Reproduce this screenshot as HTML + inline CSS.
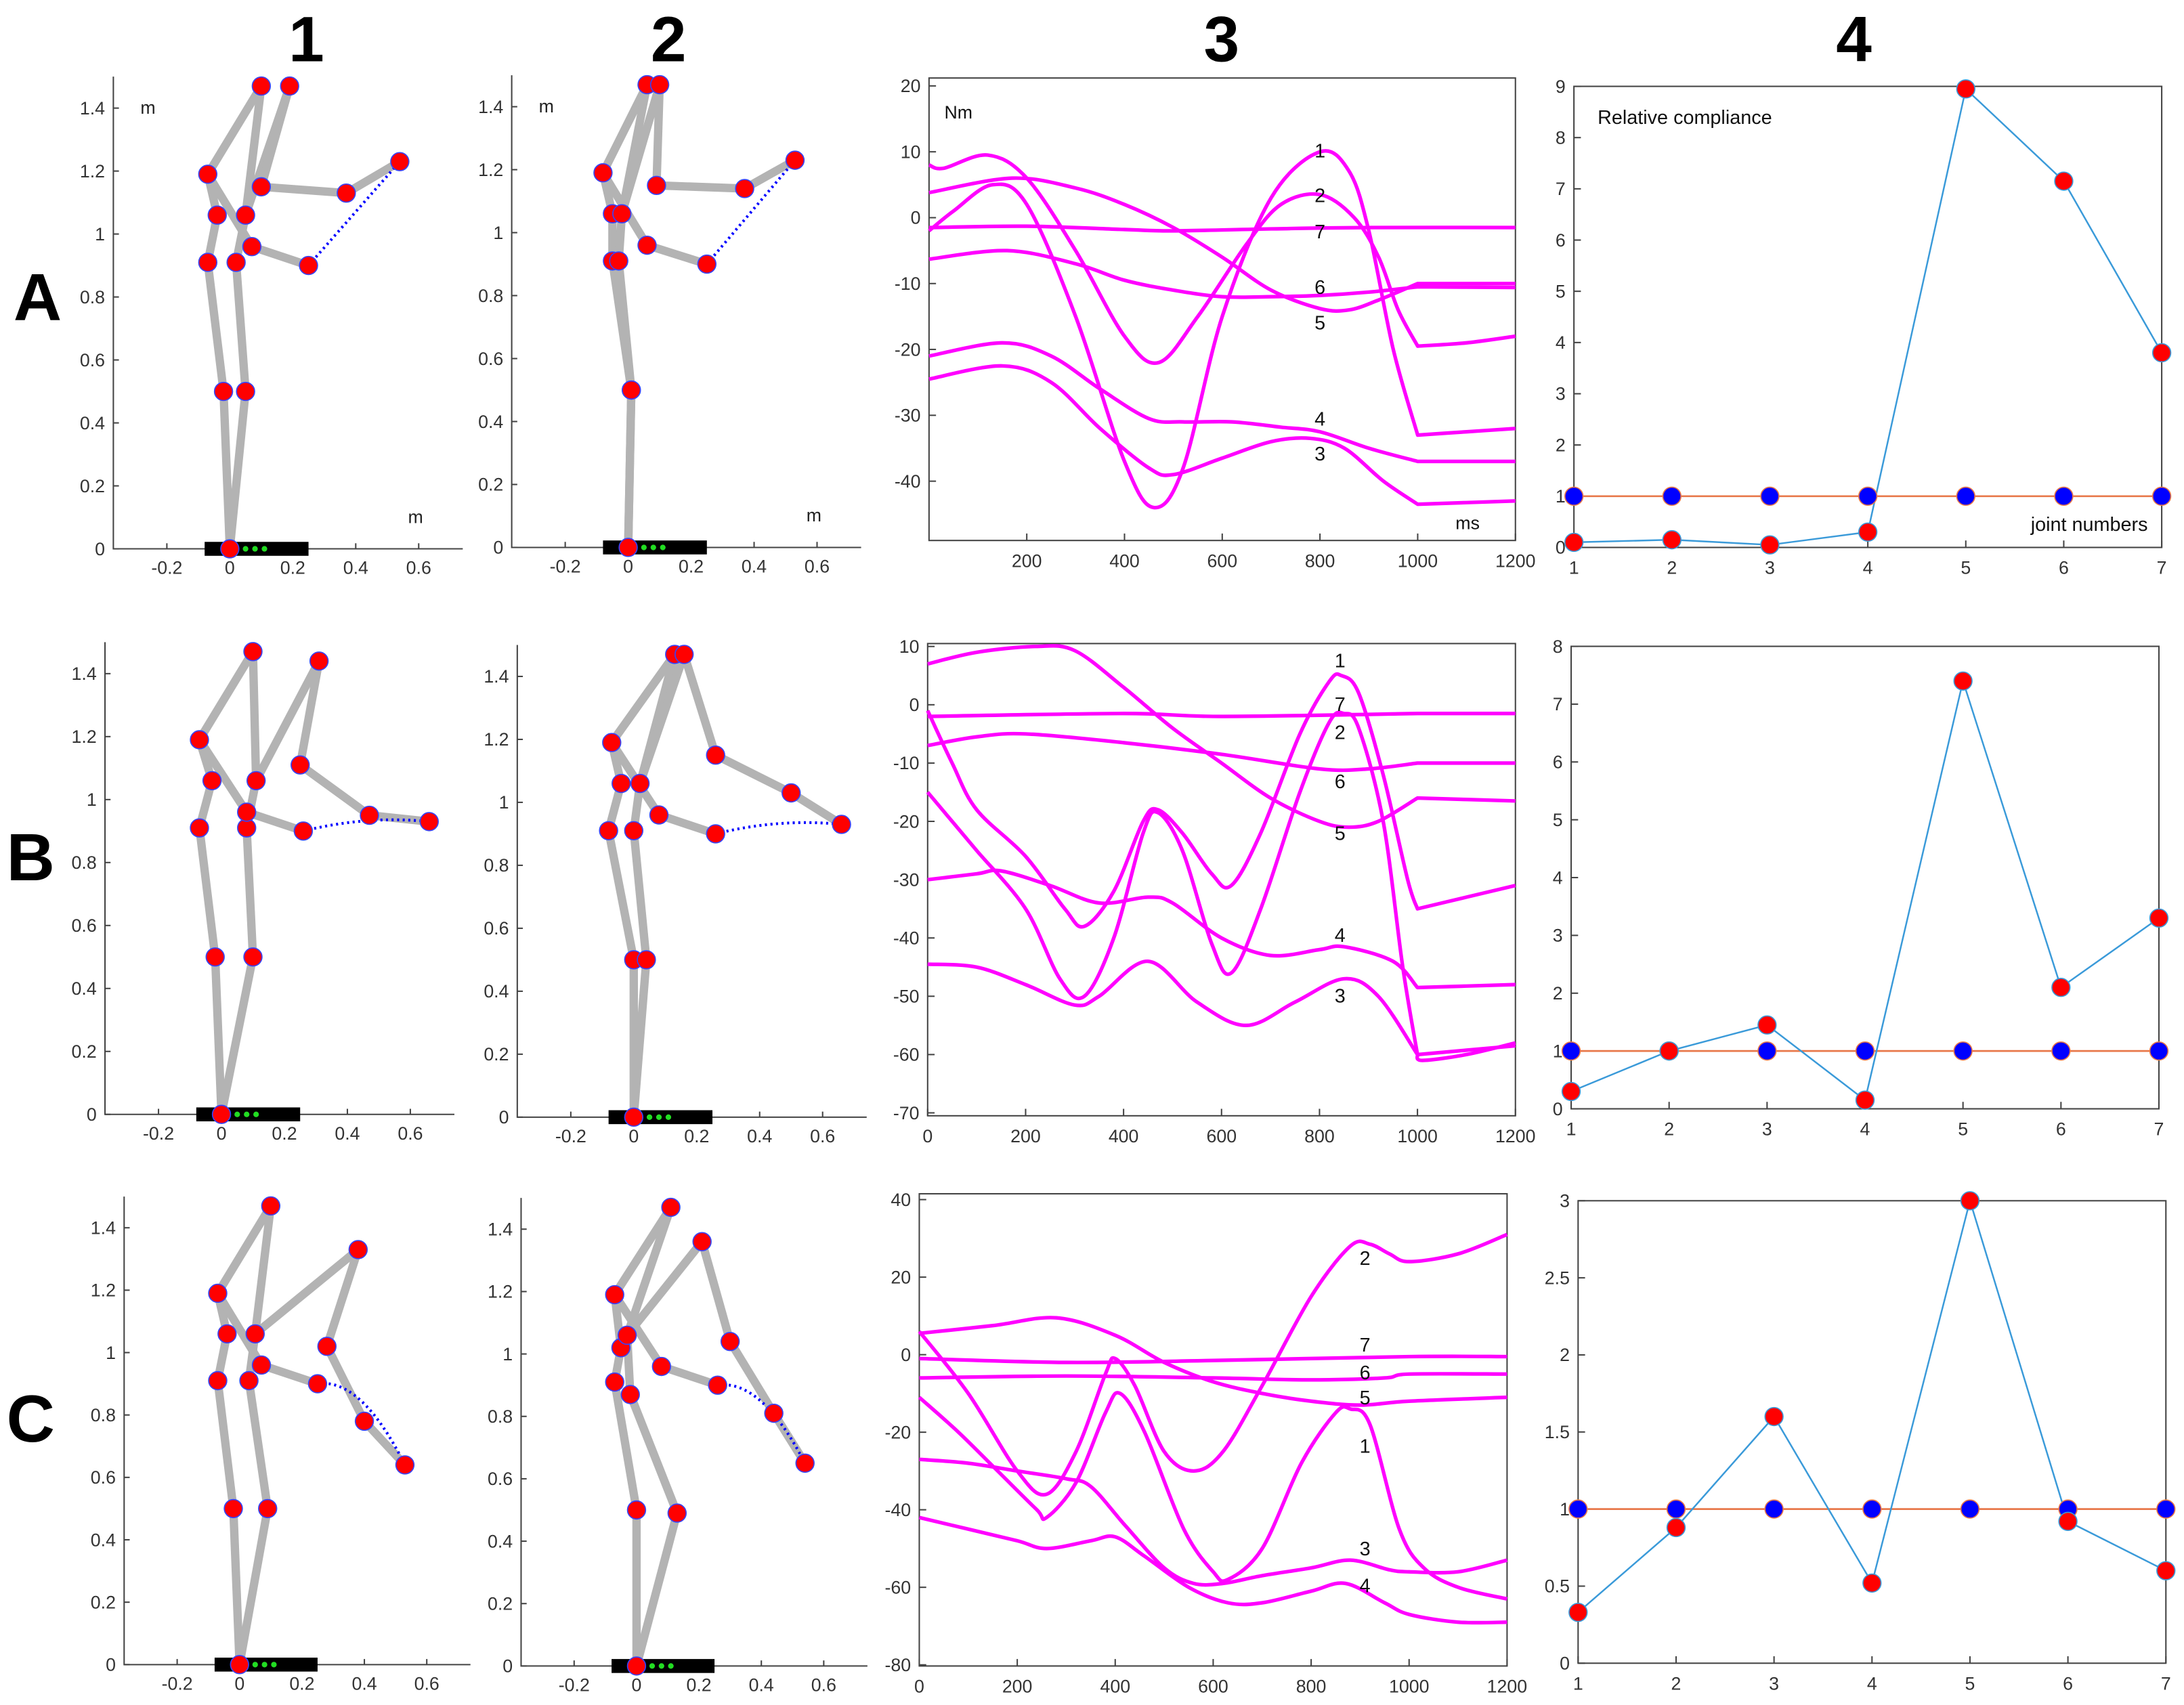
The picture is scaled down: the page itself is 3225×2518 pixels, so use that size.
<!DOCTYPE html>
<html><head><meta charset="utf-8">
<style>
html,body{margin:0;padding:0;background:#fff;}
svg{display:block;font-family:"Liberation Sans",Arial,sans-serif;}
</style></head>
<body>
<svg id="fig" width="3225" height="2518" viewBox="0 0 1568 1224" preserveAspectRatio="none" xmlns="http://www.w3.org/2000/svg">
<rect x="0" y="0" width="1568" height="1224" fill="#fff"/>
<text x="220" y="44" font-size="46" font-weight="bold" text-anchor="middle">1</text>
<text x="480" y="44" font-size="46" font-weight="bold" text-anchor="middle">2</text>
<text x="877" y="44" font-size="46" font-weight="bold" text-anchor="middle">3</text>
<text x="1331" y="44" font-size="46" font-weight="bold" text-anchor="middle">4</text>
<text x="27" y="230" font-size="48" font-weight="bold" text-anchor="middle">A</text>
<text x="22" y="632" font-size="48" font-weight="bold" text-anchor="middle">B</text>
<text x="22" y="1035" font-size="48" font-weight="bold" text-anchor="middle">C</text>
</svg>
<script>
// ---------- stick figure data (meters) order: F,K1,K2,H1,H2,W1,W2,S1,E1,E2,P1,P2,P3,Q1,Q2
const jointsA1=[[0,0],[-0.02,0.50],[0.05,0.50],[-0.07,0.91],[0.02,0.91],[-0.04,1.06],[0.05,1.06],[-0.07,1.19],[0.10,1.47],[0.19,1.47],[0.10,1.15],[0.37,1.13],[0.54,1.23],[0.07,0.96],[0.25,0.90]];
const jointsA2=[[0,0],[0.01,0.50],[0.01,0.50],[-0.05,0.91],[-0.03,0.91],[-0.05,1.06],[-0.02,1.06],[-0.08,1.19],[0.06,1.47],[0.10,1.47],[0.09,1.15],[0.37,1.14],[0.53,1.23],[0.06,0.96],[0.25,0.90]];
const jointsB1=[[0,0],[-0.02,0.50],[0.10,0.50],[-0.07,0.91],[0.08,0.91],[-0.03,1.06],[0.11,1.06],[-0.07,1.19],[0.10,1.47],[0.31,1.44],[0.25,1.11],[0.47,0.95],[0.66,0.93],[0.08,0.96],[0.26,0.90]];
const jointsB2=[[0,0],[0.00,0.50],[0.04,0.50],[-0.08,0.91],[0.00,0.91],[-0.04,1.06],[0.02,1.06],[-0.07,1.19],[0.13,1.47],[0.16,1.47],[0.26,1.15],[0.50,1.03],[0.66,0.93],[0.08,0.96],[0.26,0.90]];
const jointsC1=[[0,0],[-0.02,0.50],[0.09,0.50],[-0.07,0.91],[0.03,0.91],[-0.04,1.06],[0.05,1.06],[-0.07,1.19],[0.10,1.47],[0.38,1.33],[0.28,1.02],[0.40,0.78],[0.53,0.64],[0.07,0.96],[0.25,0.90]];
const jointsC2=[[0,0],[0.00,0.50],[0.13,0.49],[-0.07,0.91],[-0.02,0.87],[-0.05,1.02],[-0.03,1.06],[-0.07,1.19],[0.11,1.47],[0.21,1.36],[0.30,1.04],[0.44,0.81],[0.54,0.65],[0.08,0.96],[0.26,0.90]];
const stickXTicks=[-0.2,0,0.2,0.4,0.6];
const stickYTicks=[0,0.2,0.4,0.6,0.8,1,1.2,1.4];

// ---------- torque curves (ms, Nm)
const tqA1=[[0,-2],[50,1],[130,5],[200,2],[300,-15],[400,-37],[460,-44],[520,-38],[600,-15],[700,3],[800,10],[860,7],[900,-2],[950,-20],[1000,-33],[1100,-32.5],[1200,-32]];
const tqA2=[[0,8],[30,7.5],[120,9.5],[200,6],[300,-5],[400,-18],[470,-22],[550,-15],[650,-4],[720,2],[800,3.5],[870,0],[920,-6],[960,-14],[1000,-19.5],[1100,-19],[1200,-18]];
const tqA3=[[0,-24.5],[150,-22.5],[250,-25],[350,-32],[450,-38],[500,-39],[600,-36.5],[700,-34],[780,-33.5],[850,-35],[930,-40],[1000,-43.5],[1200,-43]];
const tqA4=[[0,-21],[150,-19],[250,-21],[350,-26],[450,-30.5],[520,-31],[620,-31],[720,-31.8],[800,-32.5],[900,-35],[1000,-37],[1200,-37]];
const tqA5=[[0,3.8],[170,6],[300,4.5],[400,2],[500,-1.5],[600,-6],[700,-11],[800,-13.8],[860,-14],[920,-12.5],[1000,-10],[1200,-10]];
const tqA6=[[0,-6.3],[160,-5],[300,-7],[400,-9.5],[500,-11],[600,-12],[700,-12],[800,-11.8],[900,-11.3],[1000,-10.5],[1200,-10.6]];
const tqA7=[[0,-1.5],[200,-1.3],[400,-1.8],[500,-2],[700,-1.7],[900,-1.5],[1200,-1.5]];
const tqB1=[[0,-1],[50,-10],[100,-18],[200,-26],[280,-35],[320,-38],[380,-32],[440,-20],[470,-18],[520,-22],[580,-29],[620,-31],[680,-22],[760,-5],[820,4],[845,5],[880,2],[930,-12],[980,-30],[1000,-35],[1100,-33],[1200,-31]];
const tqB2=[[0,-15],[50,-20],[100,-25],[200,-35],[270,-47],[320,-50],[380,-40],[440,-22],[470,-18.5],[520,-25],[580,-41],[620,-46],[680,-35],[760,-15],[820,-3],[850,-1.5],[880,-4],[930,-20],[970,-45],[1000,-60],[1010,-61],[1100,-60],[1200,-58]];
const tqB3=[[0,-44.5],[100,-45],[200,-48],[300,-51.5],[350,-50],[450,-44],[550,-51],[650,-55],[750,-51],[850,-47],[920,-50],[1000,-60],[1200,-58.5]];
const tqB4=[[0,-30],[100,-29],[150,-28.5],[250,-31],[350,-34],[450,-33],[500,-34],[600,-40],[700,-43],[800,-42],[850,-41.5],[950,-44],[1000,-48.5],[1200,-48]];
const tqB5=[[0,7],[100,9],[220,10],[300,9.3],[400,3],[500,-4],[600,-10],[700,-16],[800,-20],[860,-21],[920,-20],[1000,-16],[1200,-16.5]];
const tqB6=[[0,-7],[100,-5.5],[200,-5],[400,-6.5],[600,-8.5],[800,-11],[900,-11],[1000,-10],[1200,-10]];
const tqB7=[[0,-2],[400,-1.5],[600,-2],[1000,-1.5],[1200,-1.5]];
const tqC1=[[0,-11],[80,-20],[160,-30],[240,-40],[260,-42],[320,-33],[380,-15],[410,-10],[460,-20],[540,-45],[600,-56],[630,-58],[700,-50],[780,-28],[850,-15],[880,-14],[920,-18],[980,-45],[1030,-55],[1100,-60],[1200,-63]];
const tqC2=[[0,6],[100,-10],[200,-30],[260,-36],[320,-25],[380,-5],[400,-1],[440,-8],[500,-25],[560,-30],[620,-25],[700,-8],[800,15],[880,28],[920,28.5],[960,26],[1000,24],[1100,26],[1200,31]];
const tqC3=[[0,-27],[100,-28],[200,-30],[300,-32],[350,-34],[420,-44],[500,-55],[560,-59],[620,-59],[700,-57],[800,-55],[880,-53],[960,-55.5],[1000,-56],[1100,-56],[1200,-53]];
const tqC4=[[0,-42],[100,-45],[200,-48],[260,-50],[350,-48],[400,-47],[460,-52],[550,-60],[630,-64],[700,-64],[800,-61],[870,-59],[950,-64],[1000,-67],[1100,-69],[1200,-69]];
const tqC5=[[0,5.5],[150,7.5],[280,9.5],[400,5],[500,-2],[600,-7],[700,-10],[800,-12],[900,-13],[1000,-12],[1200,-11]];
const tqC6=[[0,-6],[300,-5.5],[600,-6],[800,-6.5],[950,-6],[1000,-5],[1200,-5]];
const tqC7=[[0,-1],[300,-2],[600,-1.5],[1000,-0.5],[1200,-0.5]];
const curveLabelsA=[['1',800,10.2],['2',800,3.4],['7',800,-2.1],['6',800,-10.5],['5',800,-15.9],['4',800,-30.5],['3',800,-35.8]];
const curveLabelsB=[['1',842,7.6],['7',842,0.1],['2',842,-4.7],['6',842,-13.1],['5',842,-22],['4',842,-39.5],['3',842,-49.9]];
const curveLabelsC=[['2',910,25],['7',910,2.6],['6',910,-4.6],['5',910,-11],['1',910,-23.5],['3',910,-50],['4',910,-59.5]];
const msTicks=[200,400,600,800,1000,1200];
const nmTicksA=[20,10,0,-10,-20,-30,-40];
const nmTicksB=[10,0,-10,-20,-30,-40,-50,-60,-70];
const nmTicksC=[40,20,0,-20,-40,-60,-80];

// ---------- compliance data
const joints=[1,2,3,4,5,6,7];
const complianceA=[0.1,0.15,0.05,0.3,8.95,7.15,3.8];
const complianceB=[0.3,1.0,1.45,0.15,7.4,2.1,3.3];
const complianceC=[0.33,0.88,1.6,0.52,3.0,0.92,0.6];
const referenceLevel=[1,1,1,1,1,1,1];
const compTicksA=[0,1,2,3,4,5,6,7,8,9];
const compTicksB=[0,1,2,3,4,5,6,7,8];
const compTicksC=[0,0.5,1,1.5,2,2.5,3];

const NS='http://www.w3.org/2000/svg';
const svg=document.getElementById('fig');
function mk(tag,attrs,parent){const e=document.createElementNS(NS,tag);for(const k in attrs)e.setAttribute(k,attrs[k]);(parent||svg).appendChild(e);return e;}
function lin(d0,d1,r0,r1){return v=>r0+(v-d0)/(d1-d0)*(r1-r0);}
function fmt(v){return (Math.round(v*10)/10).toString();}
function smooth(pts,move){
  let d=(move?'M':'L')+pts[0][0].toFixed(2)+','+pts[0][1].toFixed(2);
  for(let i=0;i<pts.length-1;i++){
    const p0=pts[Math.max(0,i-1)],p1=pts[i],p2=pts[i+1],p3=pts[Math.min(pts.length-1,i+2)];
    const c1x=p1[0]+(p2[0]-p0[0])/6,c1y=p1[1]+(p2[1]-p0[1])/6;
    const c2x=p2[0]-(p3[0]-p1[0])/6,c2y=p2[1]-(p3[1]-p1[1])/6;
    d+=' C'+c1x.toFixed(2)+','+c1y.toFixed(2)+' '+c2x.toFixed(2)+','+c2y.toFixed(2)+' '+p2[0].toFixed(2)+','+p2[1].toFixed(2);
  }
  return d;
}

// ---------- stick panels
const segs=[[0,1],[1,3],[3,5],[5,7],[7,8],[7,13],[13,14],[0,2],[2,4],[4,6],[6,8],[6,9],[9,10],[10,11],[11,12]];
function stickPanel(name,joints,ox,oy,s,units,curved){
  const g=mk('g',{});
  
  
  const X=lin(0,1,ox,ox+s),Y=lin(0,1,oy,oy-s);
  const xmin=-0.37,xmax=0.74,ytop=1.5;
  const ax=mk('path',{d:'M'+X(xmin)+','+Y(ytop)+' L'+X(xmin)+','+Y(0)+' L'+X(xmax)+','+Y(0),fill:'none',stroke:'#444','stroke-width':1},g);
  
  
  stickYTicks.forEach(v=>{
    const t=mk('line',{x1:X(xmin),x2:X(xmin)+4,y1:Y(v),y2:Y(v),stroke:'#444','stroke-width':1},g);
    
    
    const l=mk('text',{x:X(xmin)-6,y:Y(v)+4.5,'font-size':13,'text-anchor':'end',fill:'#333'},g);
    
    
    l.textContent=fmt(v);
  });
  stickXTicks.forEach(v=>{
    const t=mk('line',{x1:X(v),x2:X(v),y1:Y(0),y2:Y(0)-4,stroke:'#444','stroke-width':1},g);
    
    
    const l=mk('text',{x:X(v),y:Y(0)+18,'font-size':13,'text-anchor':'middle',fill:'#333'},g);
    
    
    l.textContent=fmt(v);
  });
  segs.forEach(p=>{
    const a=joints[p[0]],b=joints[p[1]];
    const ln=mk('line',{x1:X(a[0]),y1:Y(a[1]),x2:X(b[0]),y2:Y(b[1]),stroke:'#b3b3b3','stroke-width':6,'stroke-linecap':'round'},g);
    
    
  });
  const q=joints[14],p=joints[12];
  const d=curved?('M'+X(q[0])+','+Y(q[1])+' Q'+X((q[0]+p[0])/2)+','+Y(Math.max(q[1],p[1])+0.02)+' '+X(p[0])+','+Y(p[1])):('M'+X(q[0])+','+Y(q[1])+' L'+X(p[0])+','+Y(p[1]));
  const dot=mk('path',{d:d,fill:'none',stroke:'#0000ff','stroke-width':2,'stroke-dasharray':'1.5 2.5'},g);
  
  
  const bar=mk('rect',{x:X(-0.08),y:Y(0)-5,width:X(0.25)-X(-0.08),height:10,fill:'#000'},g);
  
  
  [0.02,0.05,0.08,0.11].forEach(v=>{
    const c=mk('circle',{cx:X(v),cy:Y(0),r:2,fill:'#22dd22'},g);
    
    
  });
  joints.forEach(j=>{
    const c=mk('circle',{cx:X(j[0]),cy:Y(j[1]),r:6.5,fill:'#ff0000',stroke:'#3344ff','stroke-width':0.8},g);
    
    
  });
  if(units){
    const m1=mk('text',{x:X(-0.26),y:Y(1.40)+4,'font-size':13,'text-anchor':'middle',fill:'#222'},g);
    
    
    m1.textContent='m';
    const m2=mk('text',{x:X(0.59),y:Y(0.10)+4,'font-size':13,'text-anchor':'middle',fill:'#222'},g);
    
    
    m2.textContent='m';
  }
}
stickPanel('posture-a1',jointsA1,165,394,226,true,false);
stickPanel('posture-a2',jointsA2,451,393,226,true,false);
stickPanel('posture-b1',jointsB1,159,800,226,false,true);
stickPanel('posture-b2',jointsB2,455,802,226,false,true);
stickPanel('posture-c1',jointsC1,172,1195,224,false,true);
stickPanel('posture-c2',jointsC2,457,1196,224,false,true);

// ---------- torque panels
function torquePanel(name,box,ymin,ymax,yticks,curves,labels,zeroLabel,units,breakAt){
  const g=mk('g',{});
  
  
  const X=lin(0,1200,box[0],box[1]),Y=lin(ymin,ymax,box[3],box[2]);
  const fr=mk('rect',{x:box[0],y:box[2],width:box[1]-box[0],height:box[3]-box[2],fill:'none',stroke:'#444','stroke-width':1},g);
  
  
  yticks.forEach(v=>{
    const t=mk('line',{x1:box[0],x2:box[0]+5,y1:Y(v),y2:Y(v),stroke:'#444'},g);
    
    
    const l=mk('text',{x:box[0]-6,y:Y(v)+4.5,'font-size':13,'text-anchor':'end',fill:'#333'},g);
    
    
    l.textContent=v;
  });
  const xt=zeroLabel?[0].concat(msTicks):msTicks;
  xt.forEach(v=>{
    const t=mk('line',{x1:X(v),x2:X(v),y1:box[3],y2:box[3]-5,stroke:'#444'},g);
    
    
    const l=mk('text',{x:X(v),y:box[3]+19,'font-size':13,'text-anchor':'middle',fill:'#333'},g);
    
    
    l.textContent=v;
  });
  curves.forEach((c,i)=>{
    let d;
    if(breakAt){
      const k=c.findIndex(q=>q[0]>=breakAt);
      const a=c.slice(0,k+1).map(q=>[X(q[0]),Y(q[1])]);
      const b=c.slice(k).map(q=>[X(q[0]),Y(q[1])]);
      d=smooth(a,true)+(b.length>1?' '+smooth(b,false):'');
    } else d=smooth(c.map(q=>[X(q[0]),Y(q[1])]),true);
    const p=mk('path',{d:d,fill:'none',stroke:'#ff00ff','stroke-width':2.6,'stroke-linejoin':'round'},g);
    
    
  });
  labels.forEach(L=>{
    const t=mk('text',{x:X(L[1]),y:Y(L[2])+5,'font-size':14,'text-anchor':'middle',fill:'#111'},g);
    
    
    t.textContent=L[0];
  });
  if(units){
    const a=mk('text',{x:box[0]+11,y:box[2]+29,'font-size':13,fill:'#111'},g);
    
    
    a.textContent='Nm';
    const b=mk('text',{x:box[1]-43,y:box[3]-8,'font-size':13,fill:'#111'},g);
    
    
    b.textContent='ms';
  }
}
torquePanel('torque-panel-a',[667,1088,56,388],-49,21.2,nmTicksA,[tqA1,tqA2,tqA3,tqA4,tqA5,tqA6,tqA7],curveLabelsA,false,true,1000);
torquePanel('torque-panel-b',[666,1088,462,801],-70.5,10.5,nmTicksB,[tqB1,tqB2,tqB3,tqB4,tqB5,tqB6,tqB7],curveLabelsB,true,false,1000);
torquePanel('torque-panel-c',[660,1082,857,1196],-80.3,41.5,nmTicksC,[tqC1,tqC2,tqC3,tqC4,tqC5,tqC6,tqC7],curveLabelsC,true,false,0);

// ---------- compliance panels
function compPanel(name,box,ymax,yticks,vals,texts){
  const g=mk('g',{});
  
  
  const X=lin(1,7,box[0],box[1]),Y=lin(0,ymax,box[3],box[2]);
  const fr=mk('rect',{x:box[0],y:box[2],width:box[1]-box[0],height:box[3]-box[2],fill:'none',stroke:'#444','stroke-width':1},g);
  
  
  yticks.forEach(v=>{
    const t=mk('line',{x1:box[0],x2:box[0]+5,y1:Y(v),y2:Y(v),stroke:'#444'},g);
    
    
    const l=mk('text',{x:box[0]-6,y:Y(v)+4.5,'font-size':13,'text-anchor':'end',fill:'#333'},g);
    
    
    l.textContent=v;
  });
  joints.forEach(v=>{
    const t=mk('line',{x1:X(v),x2:X(v),y1:box[3],y2:box[3]-5,stroke:'#444'},g);
    
    
    const l=mk('text',{x:X(v),y:box[3]+19,'font-size':13,'text-anchor':'middle',fill:'#333'},g);
    
    
    l.textContent=v;
  });
  const ref=mk('polyline',{points:joints.map((j,i)=>X(j)+','+Y(referenceLevel[i])).join(' '),fill:'none',stroke:'#e8784a','stroke-width':1.3},g);
  
  
  const ln=mk('polyline',{points:joints.map((j,i)=>X(j)+','+Y(vals[i])).join(' '),fill:'none',stroke:'#3a9ad9','stroke-width':1.2},g);
  
  
  joints.forEach((j,i)=>{
    const c=mk('circle',{cx:X(j),cy:Y(referenceLevel[i]),r:6.5,fill:'#0000ff',stroke:'#e8784a','stroke-width':0.8},g);
    
    
  });
  joints.forEach((j,i)=>{
    const c=mk('circle',{cx:X(j),cy:Y(vals[i]),r:6.5,fill:'#ff0000',stroke:'#3a9ad9','stroke-width':0.8},g);
    
    
  });
  if(texts){
    const a=mk('text',{x:box[0]+17,y:box[2]+27,'font-size':14,fill:'#111'},g);
    
    
    a.textContent='Relative compliance';
    const b=mk('text',{x:box[1]-10,y:box[3]-12,'font-size':14,fill:'#111','text-anchor':'end'},g);
    
    
    b.textContent='joint numbers';
  }
}
compPanel('compliance-panel-a',[1130,1552,62,393],9,compTicksA,complianceA,true);
compPanel('compliance-panel-b',[1128,1550,464,796],8,compTicksB,complianceB,false);
compPanel('compliance-panel-c',[1133,1555,862,1194],3,compTicksC,complianceC,false);
</script>
</body></html>
